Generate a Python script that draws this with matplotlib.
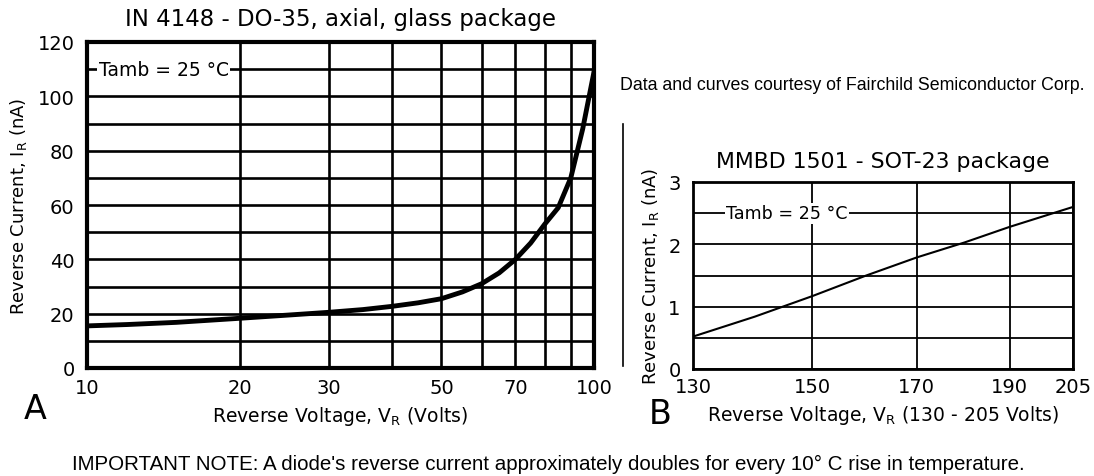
import matplotlib as mpl
mpl.use('Agg')
import matplotlib.pyplot as plt
from matplotlib.lines import Line2D
from matplotlib.ticker import NullFormatter, NullLocator

plt.rcParams['font.family'] = ['DejaVu Sans']
plt.rcParams['mathtext.default'] = 'regular'

# chart A: 1N4148, reverse current vs reverse voltage (log V axis)
vr_a = [10, 12, 15, 20, 25, 30, 35, 40, 45, 50, 55, 60, 65, 70, 75, 80, 85, 90, 95, 100]
ir_a = [15.5, 16, 16.8, 18.3, 19.5, 20.5, 21.5, 22.7, 24, 25.5, 28, 31, 35, 40, 46, 53, 59, 70, 88, 109]
xticks_a = [10, 20, 30, 50, 70, 100]
xgrid_a = [40, 60, 80, 90]
yticks_a = [0, 20, 40, 60, 80, 100, 120]
ygrid_a = [10, 30, 50, 70, 90, 110]

# chart B: MMBD1501
vr_b = [130, 140, 150, 160, 170, 180, 190, 205]
ir_b = [0.52, 0.84, 1.17, 1.5, 1.79, 2.03, 2.28, 2.6]
xticks_b = [130, 150, 170, 190, 205]
yticks_b = [0, 1, 2, 3]
ygrid_b = [0.5, 1.5, 2.5]

fig = plt.figure(figsize=(10.94, 4.77), dpi=100)

# ---- A
ax = fig.add_axes([87/1094, 1 - 369/477, 507/1094, 326/477])
ax.set_xscale('log')
ax.plot(vr_a, ir_a, color='black', lw=3.5, zorder=3)
ax.set_xlim(10, 100)
ax.set_ylim(0, 120)
ax.set_xticks(xticks_a)
ax.set_xticklabels([str(v) for v in xticks_a])
ax.set_xticks(xgrid_a, minor=True)
ax.xaxis.set_minor_formatter(NullFormatter())
ax.set_yticks(yticks_a)
ax.set_yticks(ygrid_a, minor=True)
ax.grid(which='both', color='black', lw=1.9)
ax.set_axisbelow(True)
ax.tick_params(which='both', length=0, labelsize=14)
ax.tick_params(axis='x', pad=7)
ax.tick_params(axis='y', pad=9)
for s in ax.spines.values():
    s.set_linewidth(3)
ax.set_title('IN 4148 - DO-35, axial, glass package', fontsize=16.5, pad=12)
ax.set_xlabel('Reverse Voltage, V$_R$ (Volts)', fontsize=13.5, labelpad=5)
ax.set_ylabel('Reverse Current, I$_R$ (nA)', fontsize=13, labelpad=6)
ax.text(10.55, 110, 'Tamb = 25 °C', fontsize=13.5, va='center', zorder=4,
        bbox=dict(facecolor='white', edgecolor='none', pad=1))

# ---- B
bx = fig.add_axes([693/1094, 1 - 370/477, 380/1094, 187/477])
bx.set_xscale('log')
bx.plot(vr_b, ir_b, color='black', lw=1.5, zorder=3)
bx.set_xlim(130, 205)
bx.set_ylim(0, 3)
bx.set_xticks(xticks_b)
bx.set_xticklabels([str(v) for v in xticks_b])
bx.xaxis.set_minor_locator(NullLocator())
bx.set_yticks(yticks_b)
bx.set_yticks(ygrid_b, minor=True)
bx.grid(which='both', color='black', lw=1.3)
bx.set_axisbelow(True)
bx.tick_params(which='both', length=0, labelsize=14)
bx.tick_params(axis='x', pad=6)
bx.tick_params(axis='y', pad=9)
for s in bx.spines.values():
    s.set_linewidth(2)
bx.set_title('MMBD 1501 - SOT-23 package', fontsize=15.8, pad=11)
bx.set_xlabel('Reverse Voltage, V$_R$ (130 - 205 Volts)', fontsize=13.5, labelpad=5)
bx.set_ylabel('Reverse Current, I$_R$ (nA)', fontsize=13, labelpad=5)
bx.text(135.3, 2.5, 'Tamb = 25 °C', fontsize=12.6, va='center', zorder=4,
        bbox=dict(facecolor='white', edgecolor='none', pad=1))

# separator and notes
fig.add_artist(Line2D([623/1094, 623/1094], [1 - 367/477, 1 - 125/477],
                      color='black', lw=1.2))
fig.text(620/1094, 1 - 85/477, 'Data and curves courtesy of Fairchild Semiconductor Corp.',
         family=['Liberation Sans'], fontsize=12.8, va='center')
fig.text(35/1094, 1 - 410/477, 'A', fontsize=24, ha='center', va='center')
fig.text(660/1094, 1 - 415/477, 'B', fontsize=24, ha='center', va='center')
fig.text(548/1094, 1 - 464/477,
         "IMPORTANT NOTE: A diode's reverse current approximately doubles for every 10° C rise in temperature.",
         family=['Liberation Sans'], fontsize=14.8, ha='center', va='center')

plt.savefig('out.png', dpi=100)
